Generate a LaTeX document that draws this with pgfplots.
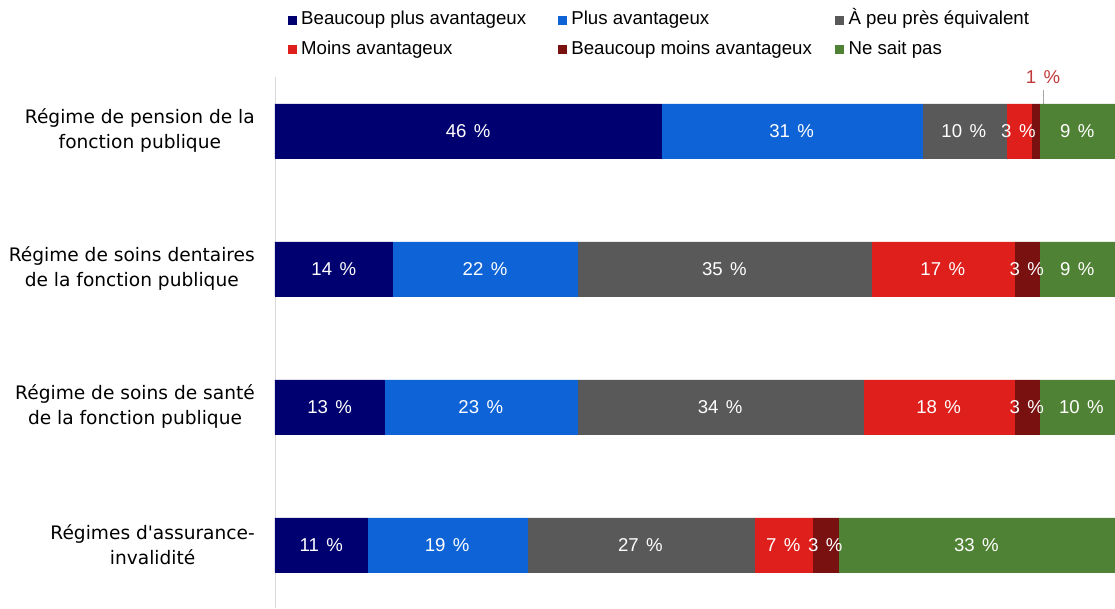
\documentclass[border=0pt]{standalone}
\usepackage{pgfplots}
\pgfplotsset{compat=1.18}
\usepackage{pgfplotstable}
\usepackage{fontspec}
\setmainfont{Liberation Sans}
\newfontfamily\catfont{DejaVu Sans}
\definecolor{cNavy}{HTML}{000070}
\definecolor{cBlue}{HTML}{0E64D6}
\definecolor{cGray}{HTML}{595959}
\definecolor{cRed}{HTML}{DF1F1C}
\definecolor{cDark}{HTML}{7A1111}
\definecolor{cGreen}{HTML}{4F8234}
\definecolor{cLbl}{HTML}{C0393B}
\pgfplotstableread{
idx a b c d e f
0 46 31 10 3 1 9
1 14 22 35 17 3 9
2 13 23 34 18 3 10
3 11 19 27 7 3 33
}\data
\begin{document}
\begin{tikzpicture}
\begin{axis}[
  name=ax,
  xbar stacked,
  scale only axis,
  width=840pt, height=531pt,
  xmin=0, xmax=100,
  ymin=-0.391, ymax=3.457,
  y dir=reverse,
  bar width=54pt,
  axis x line=none,
  axis y line*=left,
  axis line style={draw=black!15, line width=0.8pt},
  xtick=\empty,
  ytick={0,1,2,3},
  yticklabels={{Régime de pension de la\\fonction publique},{Régime de soins dentaires\\de la fonction publique},{Régime de soins de santé\\de la fonction publique},{Régimes d\symbol{39}assurance-\\invalidité}},
  yticklabel style={font=\catfont\fontsize{18.6}{25}\selectfont, align=center, inner sep=0pt, xshift=-20pt},
  major tick length=0pt,
  clip=false,
  visualization depends on={rawx \as \segw},
  nodes near coords={\ifdim\segw pt<1.5pt\else\pgfmathprintnumber[assume math mode=true, fixed, precision=0]{\segw}\hspace{0.4em}\%\fi},
  every node near coord/.append style={anchor=center, text=white, font=\fontsize{18.6}{22}\selectfont},
  legend columns=3,
  legend cell align=left,
  legend image code/.code={\fill[#1,draw=none] (0pt,-4.5pt) rectangle (9pt,4.5pt); \path (13pt,0pt);},
  legend style={draw=none, fill=none, inner sep=0pt, outer sep=0pt, row sep=10.5pt, column sep=0pt,
    nodes={inner sep=0pt, text height=14pt, text depth=5pt},
    font=\fontsize{18.65}{22}\selectfont,
    at={(0.01548,1.1249)}, anchor=north west},
]
\addplot[fill=cNavy, draw=cNavy, line width=0.4pt] table[x=a, y=idx] {\data};
\addlegendentry{\makebox[257pt][l]{Beaucoup plus avantageux}}
\addplot[fill=cBlue, draw=cBlue, line width=0.4pt] table[x=b, y=idx] {\data};
\addlegendentry{\makebox[264pt][l]{Plus avantageux}}
\addplot[fill=cGray, draw=cGray, line width=0.4pt] table[x=c, y=idx] {\data};
\addlegendentry{À peu près équivalent}
\addplot[fill=cRed, draw=cRed, line width=0.4pt] table[x=d, y=idx] {\data};
\addlegendentry{\makebox[257pt][l]{Moins avantageux}}
\addplot[fill=cDark, draw=cDark, line width=0.4pt] table[x=e, y=idx] {\data};
\addlegendentry{\makebox[264pt][l]{Beaucoup moins avantageux}}
\addplot[fill=cGreen, draw=cGreen, line width=0.4pt] table[x=f, y=idx] {\data};
\addlegendentry{Ne sait pas}
\draw[black!35, line width=0.8pt] (axis cs:91.5,-0.30) -- (axis cs:91.5,0.196);
\node[text=cLbl, font=\fontsize{18.6}{22}\selectfont] at (axis cs:91.43,-0.39) {1\hspace{0.4em}\%};
\end{axis}
\pgfresetboundingbox
\path[use as bounding box] ([shift={(-275pt,0pt)}]ax.south west) rectangle ([shift={(0pt,77pt)}]ax.north east);
\end{tikzpicture}
\end{document}
